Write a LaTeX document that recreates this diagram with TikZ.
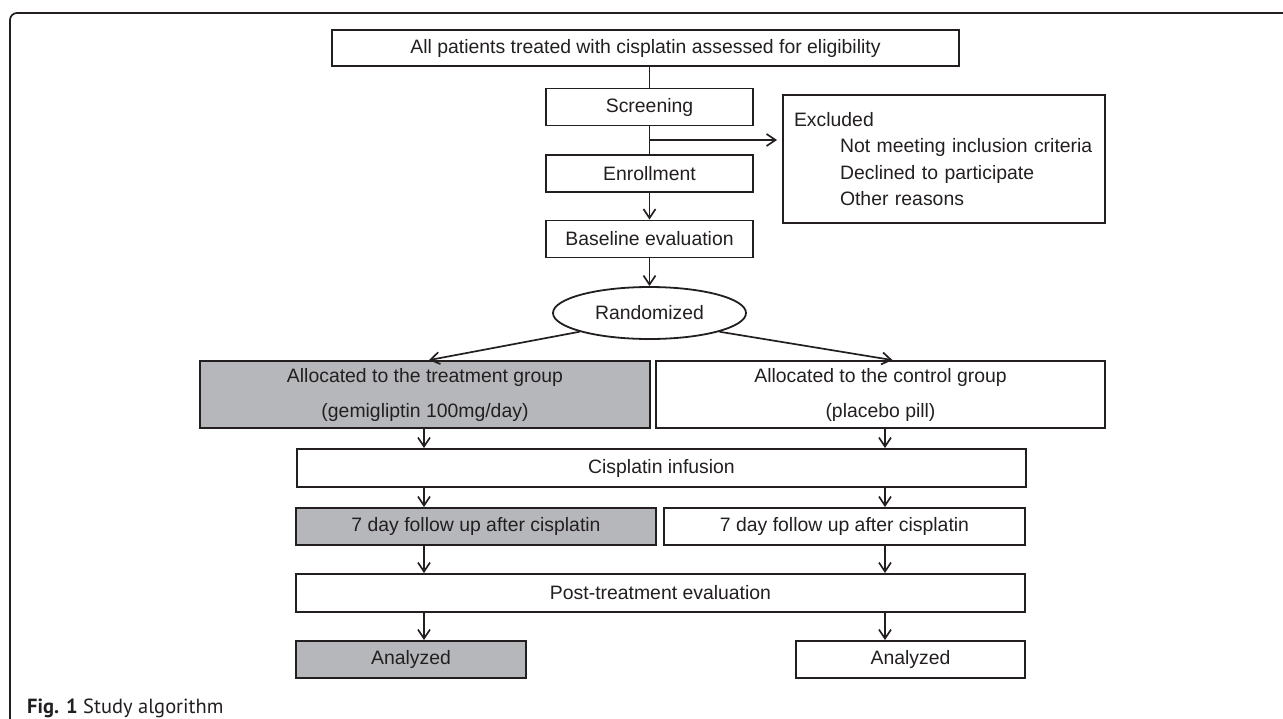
\documentclass[tikz,border=0pt]{standalone}
\usepackage{fontspec}
\setmainfont{Liberation Sans}
\newfontfamily\capfont{PT Sans}
\usetikzlibrary{arrows.meta,shapes.geometric,calc}
\definecolor{boxgray}{RGB}{182,183,187}
\definecolor{inkc}{RGB}{35,31,32}
\begin{document}
\begin{tikzpicture}[x=1pt,y=-1pt,
  box/.style={draw=inkc, line width=1.8pt, fill=white, inner sep=0pt, minimum height=37pt,
    font=\fontsize{19.4}{35}\selectfont, align=center, text=inkc},
  gbox/.style={box, fill=boxgray},
  ln/.style={line width=1.7pt, draw=inkc},
  arr/.style={ln, -{Straight Barb[length=9pt,width=12pt]}}]
\useasboundingbox (0,0) rectangle (1283,718);
% frame
\draw[line width=1.7pt, draw=inkc, rounded corners=7pt] (10,725) |- (1295,13);
% nodes
\node[box, minimum width=627pt, minimum height=36pt] (top) at (645.5,48) {All patients treated with cisplatin assessed for eligibility};
\node[box, minimum width=207pt] (scr) at (649.5,107) {Screening};
\node[box, minimum width=207pt] (enr) at (649.5,173.5) {Enrollment};
\node[box, minimum width=207pt] (base) at (649.5,239) {Baseline evaluation};
\node[box, minimum width=322pt, minimum height=128pt, text width=300pt, align=left,
  font=\fontsize{19.4}{26.3}\selectfont, inner xsep=11pt] (exc) at (944,159)
  {Excluded\\\hspace*{46pt}Not meeting inclusion criteria\\\hspace*{46pt}Declined to participate\\\hspace*{46pt}Other reasons};
\node[box, ellipse, minimum width=193pt, minimum height=52pt] (rand) at (649.5,313) {Randomized};
\node[gbox, minimum width=450pt, minimum height=67pt] (treat) at (425,394.5) {Allocated to the treatment group\\(gemigliptin 100mg/day)};
\node[box, minimum width=449pt, minimum height=67pt] (ctrl) at (880.5,394.5) {Allocated to the control group\\(placebo pill)};
\node[box, minimum width=729pt, minimum height=38pt] (cis) at (661.5,468) {Cisplatin infusion};
\node[gbox, minimum width=360pt] (fuL) at (476,526.5) {7 day follow up after cisplatin};
\node[box, minimum width=361pt] (fuR) at (844.5,526.5) {7 day follow up after cisplatin};
\node[box, minimum width=729pt, minimum height=38pt] (post) at (660.5,593) {Post-treatment evaluation};
\node[gbox, minimum width=230pt] (anL) at (411,659.5) {Analyzed};
\node[box, minimum width=229pt] (anR) at (910.5,659.5) {Analyzed};
\node[anchor=base west, inner sep=0pt, font=\capfont\fontsize{20.5}{24}\selectfont, text=inkc] (cap) at (27,713) {\textbf{Fig. 1} Study algorithm};
% helper coordinates
\coordinate (lc) at (424,0);
\coordinate (rc) at (885,0);
\coordinate (br) at (649,140);
% connectors
\draw[ln] (scr.north |- top.south) -- (scr.north);
\draw[ln] (scr.south) -- (enr.north);
\draw[arr, shorten >=5pt] (br) -- (br -| exc.west);
\draw[arr] (enr.south) -- (base.north);
\draw[arr] (base.south) -- (rand.north);
\draw[arr] (rand.-165) -- ($(treat.north)+(4,0)$);
\draw[arr] (rand.-15) -- ($(ctrl.north)+(12,0)$);
\draw[arr] (lc |- treat.south) -- (lc |- cis.north);
\draw[arr] (rc |- ctrl.south) -- (rc |- cis.north);
\draw[arr] (lc |- cis.south) -- (lc |- fuL.north);
\draw[arr] (rc |- cis.south) -- (rc |- fuR.north);
\draw[arr] (lc |- fuL.south) -- (lc |- post.north);
\draw[arr] (rc |- fuR.south) -- (rc |- post.north);
\draw[arr] (lc |- post.south) -- (lc |- anL.north);
\draw[arr] (rc |- post.south) -- (rc |- anR.north);
\end{tikzpicture}
\end{document}
